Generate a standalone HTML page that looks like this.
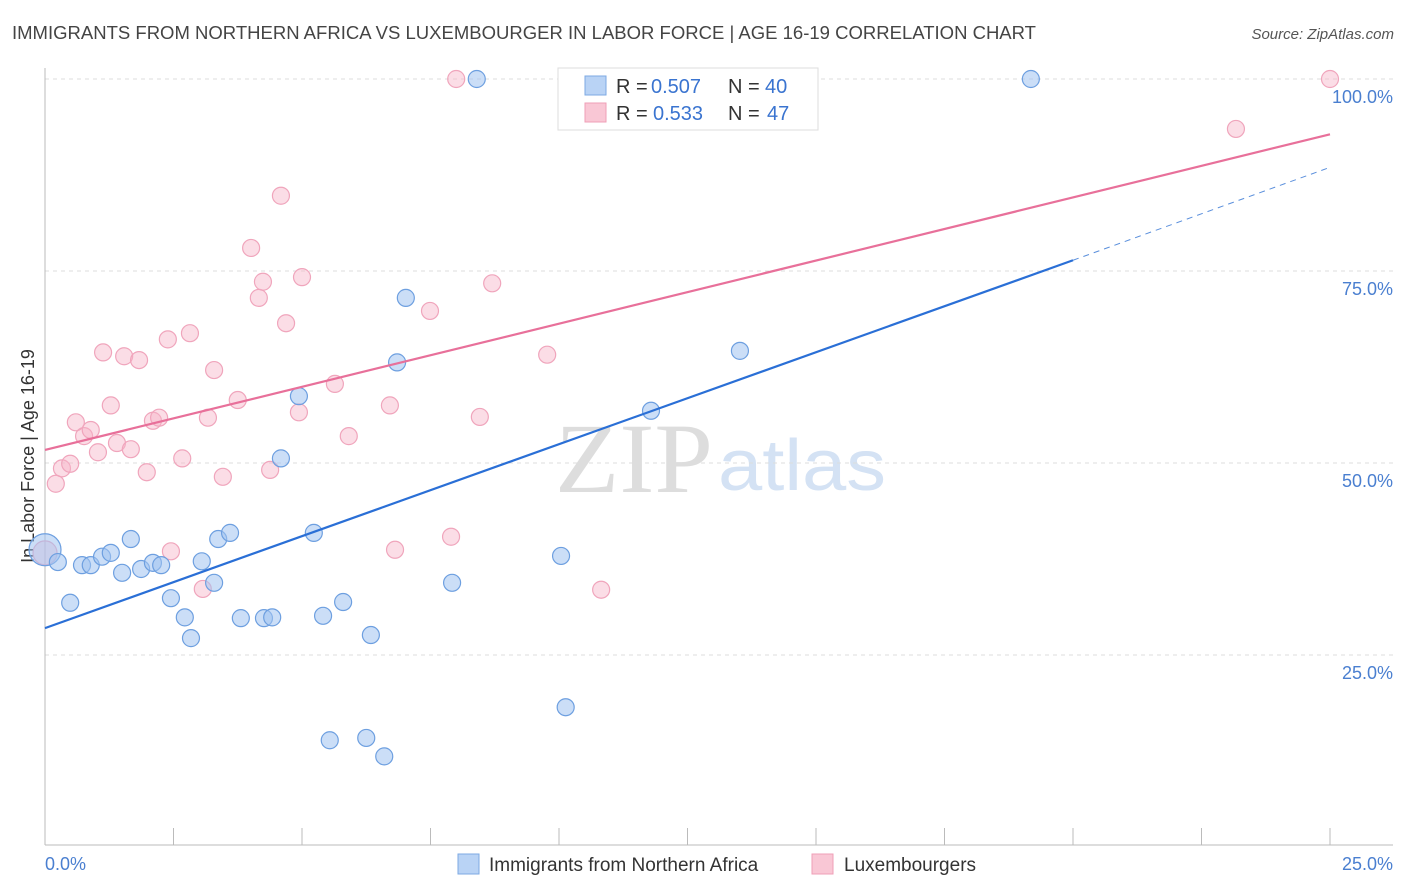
<!DOCTYPE html>
<html><head><meta charset="utf-8"><style>
body{margin:0;background:#fff;font-family:"Liberation Sans",sans-serif;}
svg{display:block}
</style></head><body>
<svg id="c" width="1406" height="892">
<text x="12" y="39" font-size="18" fill="#444" textLength="1024" lengthAdjust="spacingAndGlyphs">IMMIGRANTS FROM NORTHERN AFRICA VS LUXEMBOURGER IN LABOR FORCE | AGE 16-19 CORRELATION CHART</text>
<text x="1394" y="39" font-size="15" fill="#555" text-anchor="end" font-style="italic">Source: ZipAtlas.com</text>
<text x="555" y="492" font-size="100" fill="#ddd" textLength="158" lengthAdjust="spacingAndGlyphs" font-family="Liberation Serif">ZIP</text>
<text x="718" y="490" font-size="72" fill="#d4e2f4" textLength="168" lengthAdjust="spacingAndGlyphs">atlas</text>
<text x="34" y="456" font-size="18" fill="#333" text-anchor="middle" transform="rotate(-90 34 456)">In Labor Force | Age 16-19</text>
<g id="grid"></g><g id="pts"></g><g id="lines"></g>
<g>
<rect x="558" y="68" width="260" height="62" fill="#fff" stroke="#ddd"/>
<rect x="585" y="76" width="21" height="19" fill="#b9d3f5" stroke="#7da9e3"/>
<rect x="585" y="103" width="21" height="19" fill="#f9c7d5" stroke="#ef9fb7"/>
<text x="616" y="93" font-size="20" fill="#333">R =</text>
<text x="651" y="93" font-size="20" fill="#3a74d0">0.507</text>
<text x="728" y="93" font-size="20" fill="#333">N =</text>
<text x="765" y="93" font-size="20" fill="#3a74d0">40</text>
<text x="616" y="120" font-size="20" fill="#333">R =</text>
<text x="653" y="120" font-size="20" fill="#3a74d0">0.533</text>
<text x="728" y="120" font-size="20" fill="#333">N =</text>
<text x="767" y="120" font-size="20" fill="#3a74d0">47</text>
</g>
<g>
<rect x="458" y="854" width="21" height="20" fill="#b9d3f5" stroke="#7da9e3"/>
<text x="489" y="871" font-size="19" fill="#333">Immigrants from Northern Africa</text>
<rect x="812" y="854" width="21" height="20" fill="#f9c7d5" stroke="#ef9fb7"/>
<text x="844" y="871" font-size="19" fill="#333">Luxembourgers</text>
</g>
</svg>
<script>
const blueX=[0,0.25,0.49,0.72,0.89,1.11,1.28,1.50,1.67,1.87,2.10,2.26,2.45,2.72,2.84,3.05,3.29,3.37,3.60,3.81,4.26,4.42,4.59,4.94,5.23,5.41,5.54,5.80,6.25,6.34,6.60,6.85,7.02,7.92,8.40,10.04,10.13,11.79,13.52,19.18];
const blueY=[38.7,37.1,31.8,36.7,36.7,37.8,38.3,35.7,40.1,36.2,37.0,36.7,32.4,29.9,27.2,37.2,34.4,40.1,40.9,29.8,29.8,29.9,50.6,58.7,40.9,30.1,13.9,31.9,14.2,27.6,11.8,63.1,71.5,34.4,100,37.9,18.2,56.8,64.6,100];
const pinkX=[0,0.21,0.33,0.49,0.60,0.76,0.89,1.03,1.13,1.28,1.40,1.54,1.67,1.83,1.98,2.10,2.22,2.39,2.45,2.67,2.82,3.07,3.17,3.29,3.46,3.75,4.01,4.16,4.24,4.38,4.59,4.69,4.94,5.00,5.64,5.91,6.71,6.81,7.49,7.90,8.00,8.46,8.70,9.77,10.82,23.17,25.0];
const pinkY=[38.3,47.3,49.3,49.9,55.3,53.5,54.3,51.4,64.4,57.5,52.6,63.9,51.8,63.4,48.8,55.5,55.9,66.1,38.5,50.6,66.9,33.6,55.9,62.1,48.2,58.2,78.0,71.5,73.6,49.1,84.8,68.2,56.6,74.2,60.3,53.5,57.5,38.7,69.8,40.4,100,56.0,73.4,64.1,33.5,93.5,100];
const blueTrend=[28.5,76.4,88.5];
const pinkTrend=[51.7,92.8];
const yTicks=[25,50,75,100];
const yTickLabels=["25.0%","50.0%","75.0%","100.0%"];
const xTickLabels=["0.0%","25.0%"];
const NS="http://www.w3.org/2000/svg";
const X=v=>45+v*(1285/25), Y=v=>847-v*7.68;
function mk(t,a,p){const e=document.createElementNS(NS,t);for(const k in a)e.setAttribute(k,a[k]);p.appendChild(e);return e;}
const g=document.getElementById('grid');
yTicks.forEach((t,i)=>{
 const l=mk('line',{x1:45,x2:1393,y1:Y(t),y2:Y(t),stroke:'#ddd','stroke-dasharray':'4 4'},g);
 
 
 const tx=mk('text',{x:1393,y:Y(t)+24,'font-size':18,fill:'#4a7fd0','text-anchor':'end'},g);
 tx.textContent=yTickLabels[i];
 
 
});
mk('line',{x1:45,x2:45,y1:68,y2:845,stroke:'#bbb'},g);
mk('line',{x1:45,x2:1393,y1:845,y2:845,stroke:'#bbb'},g);
for(let i=0;i<=10;i++){const x=X(i*2.5);mk('line',{x1:x,x2:x,y1:828,y2:845,stroke:'#bbb'},g);}
[0,25].forEach((v,i)=>{const t=mk('text',{x:i?1393:45,y:870,'font-size':18,fill:'#4a7fd0','text-anchor':i?'end':'start'},g);t.textContent=xTickLabels[i];
 
 });
const p=document.getElementById('pts');
function dots(xs,ys,fill,st,name){xs.forEach((x,i)=>{const r=(i===0?(name==='blue-point'?16:12):8.5);const c=mk('circle',{cx:X(x),cy:Y(ys[i]),r:r,fill:fill,stroke:st,'stroke-width':1.2},p);
 
 });}
dots(pinkX,pinkY,'rgba(246,180,200,0.45)','#f0a5bc','pink-point');
dots(blueX,blueY,'rgba(160,195,240,0.55)','#6d9fe0','blue-point');
const L=document.getElementById('lines');
let a=mk('line',{x1:X(0),y1:Y(blueTrend[0]),x2:X(20),y2:Y(blueTrend[1]),stroke:'#2a6fd6','stroke-width':2.2},L);


a=mk('line',{x1:X(20),y1:Y(blueTrend[1]),x2:X(25),y2:Y(blueTrend[2]),stroke:'#5a8fdc','stroke-width':1,'stroke-dasharray':'6 5'},L);


a=mk('line',{x1:X(0),y1:Y(pinkTrend[0]),x2:X(25),y2:Y(pinkTrend[1]),stroke:'#e8709a','stroke-width':2.2},L);


</script>
</body></html>
